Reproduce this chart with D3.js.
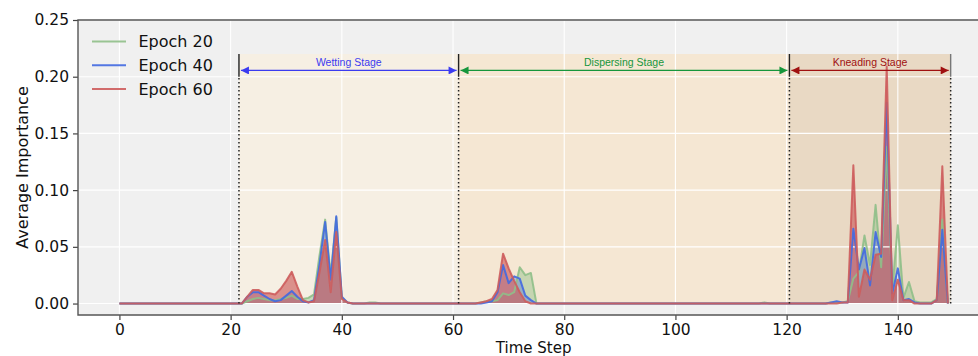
<!DOCTYPE html>
<html>
<head>
<meta charset="utf-8">
<script src="https://cdn.jsdelivr.net/npm/d3@7"></script>
<style>
body{margin:0;background:#fff;}
svg{display:block;font-family:"DejaVu Sans",sans-serif;}
</style>
</head>
<body>
<div id="chart"></div>
<script>
var w = 978, h = 356;
var margin = {top: 20, right: -11, bottom: 41, left: 78};

// time steps 0..149
var steps = d3.range(0, 150);

// average importance per time step
var epoch20 = [
  0,0,0,0,0,0,0,0,0,0,
  0,0,0,0,0,0,0,0,0,0,
  0,0,0,0.002,0.004,0.005,0.004,0.003,0.003,0.004,
  0.005,0.007,0.004,0.004,0.005,0.008,0.043,0.074,0.025,0.076,
  0.005,0.001,0,0,0,0.001,0.001,0,0,0,
  0,0,0,0,0,0,0,0,0,0,
  0,0,0,0,0,0.001,0.002,0.002,0.003,0.009,
  0.0075,0.010,0.032,0.025,0.027,0,0,0,0,0,
  0,0,0,0,0,0,0,0,0,0,
  0,0,0,0,0,0,0,0,0,0,
  0,0,0,0,0,0,0,0,0,0,
  0,0,0,0,0,0,0.001,0,0,0,
  0,0,0,0,0,0,0,0,0.001,0.001,
  0.001,0.002,0.022,0.028,0.060,0.034,0.087,0.032,0.138,0.012,
  0.069,0.005,0.019,0.002,0.001,0.001,0.001,0.004,0.074,0
];
var epoch40 = [
  0,0,0,0,0,0,0,0,0,0,
  0,0,0,0,0,0,0,0,0,0,
  0,0,0,0.006,0.010,0.010,0.007,0.004,0.002,0.003,
  0.007,0.011,0.006,0.002,0.001,0.003,0.035,0.072,0.021,0.077,
  0.006,0.001,0,0,0,0,0,0,0,0,
  0,0,0,0,0,0,0,0,0,0,
  0,0,0,0,0,0,0.001,0.002,0.010,0.034,
  0.018,0.024,0.022,0.007,0.003,0,0,0,0,0,
  0,0,0,0,0,0,0,0,0,0,
  0,0,0,0,0,0,0,0,0,0,
  0,0,0,0,0,0,0,0,0,0,
  0,0,0,0,0,0,0,0,0,0,
  0,0,0,0,0,0,0,0,0.001,0.002,
  0.001,0.001,0.066,0.030,0.049,0.016,0.063,0.041,0.177,0.009,
  0.031,0.003,0.004,0.001,0,0,0,0.003,0.065,0
];
var epoch60 = [
  0,0,0,0,0,0,0,0,0,0,
  0,0,0,0,0,0,0,0,0,0,
  0,0,0,0.006,0.012,0.012,0.009,0.009,0.008,0.013,
  0.020,0.028,0.015,0.003,0.001,0.002,0.028,0.056,0.010,0.063,
  0.004,0.001,0,0,0,0,0,0,0,0,
  0,0,0,0,0,0,0,0,0,0,
  0,0,0,0,0,0.001,0.002,0.004,0.012,0.044,
  0.031,0.020,0.010,0.002,0,0,0,0,0,0,
  0,0,0,0,0,0,0,0,0,0,
  0,0,0,0,0,0,0,0,0,0,
  0,0,0,0,0,0,0,0,0,0,
  0,0,0,0,0,0,0,0,0,0,
  0,0,0,0,0,0,0,0,0,0,
  0.001,0.001,0.122,0.006,0.030,0.021,0.043,0.044,0.209,0.003,
  0.021,0.003,0.003,0,0,0,0,0.003,0.121,0
];

var seriesNames = ["Epoch 20", "Epoch 40", "Epoch 60"];
var seriesColors = ["#8fbf88", "#4169e1", "#cd5c5c"];
var fillAlpha = [0.45, 0.35, 0.65];

var stageNames = ["Wetting Stage", "Dispersing Stage", "Kneading Stage"];
var stageStart = [21.5, 61, 120.5];
var stageEnd = [61, 120.5, 149.5];
var stageFill = ["#f6efe3", "#f5e7d3", "#e9d9c4"];
var stageColor = ["#3b3bf0", "#16963c", "#a01010"];

var xTicks = [0, 20, 40, 60, 80, 100, 120, 140];
var yTicks = [0, 0.05, 0.10, 0.15, 0.20, 0.25];

var svg = d3.select("#chart")
  .append("svg")
  .attr("width", w)
  .attr("height", h);

var plotRight = 989.3;
var xScale = d3.scaleLinear()
  .domain([-7.45, 156.45])
  .range([margin.left, plotRight]);
var yScale = d3.scaleLinear()
  .domain([-0.0101, 0.25])
  .range([h - margin.bottom, margin.top]);
var y0 = yScale(0);

svg.append("defs").append("clipPath")
  .attr("id", "clip")
  .append("rect")
  .attr("x", margin.left)
  .attr("y", margin.top)
  .attr("width", plotRight - margin.left)
  .attr("height", yScale.range()[0] - margin.top);

// axes background
svg.append("rect")
  .attr("x", margin.left)
  .attr("y", margin.top)
  .attr("width", plotRight - margin.left)
  .attr("height", yScale.range()[0] - margin.top)
  .attr("fill", "#f0f0f0");

var plot = svg.append("g").attr("clip-path", "url(#clip)");

// stage bands
plot.selectAll(".band")
  .data(stageNames)
  .enter()
  .append("rect")
  .attr("class", "band")
  .attr("x", (d, i) => xScale(stageStart[i]))
  .attr("y", yScale(0.22))
  .attr("width", (d, i) => xScale(stageEnd[i]) - xScale(stageStart[i]))
  .attr("height", y0 - yScale(0.22))
  .attr("fill", (d, i) => stageFill[i]);

var series = [epoch20, epoch40, epoch60];

var area = d3.area()
  .x((d, i) => xScale(steps[i]))
  .y0(y0)
  .y1((d) => yScale(d));
var line = d3.line()
  .x((d, i) => xScale(steps[i]))
  .y((d) => yScale(d));

series.forEach((vals, k) => {
  plot.append("path")
    .datum(vals)
    .attr("d", area)
    .attr("fill", seriesColors[k])
    .attr("fill-opacity", fillAlpha[k]);
});

// grid
plot.selectAll(".xgrid")
  .data(xTicks)
  .enter()
  .append("line")
  .attr("x1", (d) => xScale(d))
  .attr("x2", (d) => xScale(d))
  .attr("y1", margin.top)
  .attr("y2", yScale.range()[0])
  .attr("stroke", "#fff")
  .attr("stroke-width", 1.1);
plot.selectAll(".ygrid")
  .data(yTicks)
  .enter()
  .append("line")
  .attr("x1", margin.left)
  .attr("x2", plotRight)
  .attr("y1", (d) => yScale(d))
  .attr("y2", (d) => yScale(d))
  .attr("stroke", "#fff")
  .attr("stroke-width", 1.1);

series.forEach((vals, k) => {
  plot.append("path")
    .datum(vals)
    .attr("d", line)
    .attr("fill", "none")
    .attr("stroke", seriesColors[k])
    .attr("stroke-width", 2)
    .attr("stroke-opacity", 0.9)
    .attr("stroke-linejoin", "round");
});

// stage annotations
var bounds = [stageStart[0], stageStart[1], stageStart[2], stageEnd[2]];
plot.selectAll(".dots")
  .data(bounds)
  .enter()
  .append("line")
  .attr("x1", (d) => xScale(d))
  .attr("x2", (d) => xScale(d))
  .attr("y1", y0)
  .attr("y2", yScale(0.2))
  .attr("stroke", "#222")
  .attr("stroke-width", 1.5)
  .attr("stroke-dasharray", "1.5,2.5");
plot.selectAll(".marks")
  .data(bounds)
  .enter()
  .append("line")
  .attr("x1", (d) => xScale(d))
  .attr("x2", (d) => xScale(d))
  .attr("y1", yScale(0.2))
  .attr("y2", yScale(0.22))
  .attr("stroke", (d, i) => i == 3 ? "#777" : "#222")
  .attr("stroke-width", 1.4);

var defs = svg.select("defs");
stageColor.forEach((c, i) => {
  defs.append("marker")
    .attr("id", "arrow" + i)
    .attr("viewBox", "0 0 10 10")
    .attr("refX", 10)
    .attr("refY", 5)
    .attr("markerUnits", "userSpaceOnUse")
    .attr("markerWidth", 9)
    .attr("markerHeight", 8)
    .attr("orient", "auto-start-reverse")
    .append("path")
    .attr("d", "M0,0 L10,5 L0,10 z")
    .attr("fill", c);
});

plot.selectAll(".arrow")
  .data(stageNames)
  .enter()
  .append("line")
  .attr("x1", (d, i) => xScale(stageStart[i]) + 2)
  .attr("x2", (d, i) => xScale(stageEnd[i]) - 2)
  .attr("y1", yScale(0.2055))
  .attr("y2", yScale(0.2055))
  .attr("stroke", (d, i) => stageColor[i])
  .attr("stroke-width", 1.2)
  .attr("marker-start", (d, i) => "url(#arrow" + i + ")")
  .attr("marker-end", (d, i) => "url(#arrow" + i + ")");

plot.selectAll(".stageText")
  .data(stageNames)
  .enter()
  .append("text")
  .attr("x", (d, i) => (xScale(stageStart[i]) + xScale(stageEnd[i])) / 2)
  .attr("y", yScale(0.2095))
  .attr("text-anchor", "middle")
  .style("font-family", "'Liberation Sans', Arial, sans-serif")
  .style("font-size", "10.5px")
  .attr("fill", (d, i) => stageColor[i])
  .text((d) => d);

// axes
var xAxis = d3.axisBottom(xScale)
  .tickValues(xTicks)
  .tickSize(5)
  .tickSizeOuter(0)
  .tickPadding(4)
  .tickFormat(d3.format("d"));
var yAxis = d3.axisLeft(yScale)
  .tickValues(yTicks)
  .tickSize(5)
  .tickSizeOuter(0)
  .tickPadding(4)
  .tickFormat(d3.format(".2f"));

var gx = svg.append("g")
  .attr("transform", "translate(0," + yScale.range()[0] + ")")
  .call(xAxis);
var gy = svg.append("g")
  .attr("transform", "translate(" + margin.left + ",0)")
  .call(yAxis);
[gx, gy].forEach((g) => {
  g.select(".domain").remove();
  g.selectAll(".tick line").attr("stroke", "#444").attr("stroke-width", 1.2);
  g.selectAll(".tick text")
    .attr("fill", "#111")
    .style("font-family", "'DejaVu Sans', sans-serif")
    .style("font-size", "15.5px");
});

// spines
svg.append("path")
  .attr("d", "M" + plotRight + "," + margin.top + "H" + margin.left + "V" + yScale.range()[0] + "H" + plotRight)
  .attr("fill", "none")
  .attr("stroke", "#555")
  .attr("stroke-width", 1.4);

svg.append("text")
  .attr("transform", "rotate(-90)")
  .attr("x", -(margin.top + yScale.range()[0]) / 2)
  .attr("y", 28)
  .attr("text-anchor", "middle")
  .style("font-size", "16px")
  .attr("fill", "#111")
  .text("Average Importance");

svg.append("text")
  .attr("x", (margin.left + plotRight) / 2)
  .attr("y", 352.5)
  .attr("text-anchor", "middle")
  .style("font-size", "15px")
  .attr("fill", "#111")
  .text("Time Step");

// legend
var legend = svg.append("g");
seriesNames.forEach((name, i) => {
  var ly = 41.5 + i * 23.8;
  legend.append("line")
    .attr("x1", 92)
    .attr("x2", 126)
    .attr("y1", ly)
    .attr("y2", ly)
    .attr("stroke", seriesColors[i])
    .attr("stroke-width", 2)
    .attr("stroke-opacity", 0.9);
  legend.append("text")
    .attr("x", 138.5)
    .attr("y", ly + 5.8)
    .style("font-size", "16px")
    .attr("fill", "#111")
    .text(name);
});
</script>
</body>
</html>
